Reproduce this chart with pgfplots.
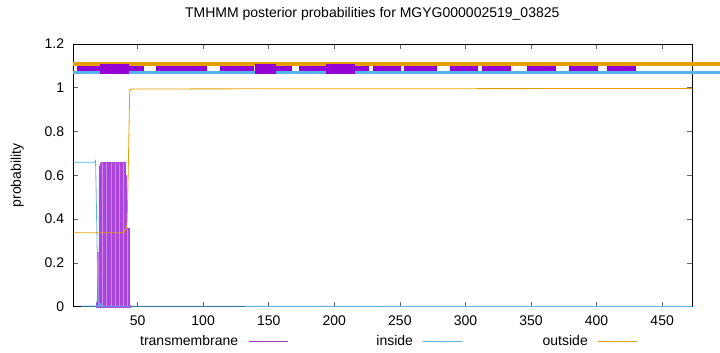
\documentclass[border=0pt]{standalone}
\usepackage{pgfplots}
\pgfplotsset{compat=1.18}
\usepackage{fontspec}
\setmainfont{Liberation Sans}
\definecolor{tmp}{HTML}{9400D3}
\definecolor{inb}{HTML}{56B4E9}
\definecolor{outo}{HTML}{E69F00}
\definecolor{tmfill}{RGB}{205,135,235}
\definecolor{tmline}{RGB}{170,70,220}
\definecolor{legp}{RGB}{160,60,210}
\begin{document}
\begin{tikzpicture}[font=\fontsize{14}{17}\selectfont]
\begin{axis}[
  scale only axis, width=619pt, height=262.7pt,
  xmin=1, xmax=473, ymin=0, ymax=1.2,
  xtick={50,100,150,200,250,300,350,400,450},
  ytick={0,0.2,0.4,0.6,0.8,1,1.2},
  /pgf/number format/assume math mode=true,
  tick align=inside, major tick length=5pt,
  tick style={black!60, line width=0.6pt},
  axis line style={black, line width=0.8pt},
  clip=false,
  unbounded coords=jump,
  title={TMHMM posterior probabilities for MGYG000002519\_03825},
  title style={at={(axis description cs:0.483,1.091)}, anchor=center, inner sep=0pt},
  ylabel={probability},
  ylabel style={at={(axis description cs:-0.0905,0.5)}, anchor=center, inner sep=0pt},
  xticklabel style={inner sep=0pt, anchor=north, yshift=-9pt},
  yticklabel style={inner sep=0pt, anchor=east, xshift=-9pt},
  legend columns=3,
  legend plot pos=right,
  legend cell align=right,
  legend style={draw=none, fill=none, inner sep=0pt,
    at={(axis description cs:0.0722,-0.1306)}, anchor=west,
    nodes={inner sep=0pt, text width=120pt, align=right},
    /tikz/every odd column/.append style={column sep=10pt},
    /tikz/every even column/.append style={column sep=5pt}},
]
% transmembrane posterior (impulses)
\addplot[ybar, bar width=1, fill=tmfill, draw=tmline, line width=0.4pt,
  legend image code/.code={\draw[legp, line width=0.8pt] (0pt,0pt) -- (39pt,0pt);}]
  coordinates {
  (19,0.02) (20,0.25) (21,0.64) (22,0.655) (23,0.66) (24,0.66) (25,0.66)
  (26,0.66) (27,0.66) (28,0.66) (29,0.66) (30,0.66) (31,0.66) (32,0.66)
  (33,0.66) (34,0.66) (35,0.66) (36,0.66) (37,0.66) (38,0.66) (39,0.66)
  (40,0.66) (41,0.60) (42,0.36) (43,0.36) (44,0.005)
  };
\addlegendentry{transmembrane}
% inside
\addplot[inb, line width=0.8pt, smooth, tension=0.3,
  legend image code/.code={\draw[inb, line width=0.8pt] (0pt,0pt) -- (39pt,0pt);}]
  coordinates {
  (1,0.66) (17,0.66) (18,0.655) (19,0.33) (20,0.02) (21,0.015) (22,0.01)
  (23,0.004) (24,0.002) (473,0.001)
  };
\addlegendentry{inside}
% outside
\addplot[outo, line width=0.8pt, smooth, tension=0.3,
  legend image code/.code={\draw[outo, line width=0.8pt] (0pt,0pt) -- (39pt,0pt);}]
  coordinates {
  (1,0.338) (38,0.338) (39,0.34) (40,0.345) (41,0.355) (42,0.38) (43,0.65)
  (44,0.975) (45,0.99) (47,0.994) (100,0.995) (300,0.996) (473,0.997)
  };
\addlegendentry{outside}
% topology lines at the top
\addplot[outo, line width=4pt, forget plot] coordinates {(1,1.109) (494.5,1.109)};
\addplot[inb, line width=3pt, forget plot] coordinates {(1,1.072) (494.5,1.072)};
\addplot[tmp, line width=4.5pt, forget plot] coordinates {
  (4.0,1.088) (54.6,1.088) (nan,nan)
  (64.3,1.088) (102.9,1.088) (nan,nan)
  (112.5,1.088) (138.5,1.088) (nan,nan)
  (139.2,1.088) (167.8,1.088) (nan,nan)
  (173.3,1.088) (226.2,1.088) (nan,nan)
  (229.3,1.088) (250.9,1.088) (nan,nan)
  (253.2,1.088) (278.4,1.088) (nan,nan)
  (288.0,1.088) (309.7,1.088) (nan,nan)
  (312.9,1.088) (334.8,1.088) (nan,nan)
  (347.0,1.088) (369.2,1.088) (nan,nan)
  (379.1,1.088) (401.2,1.088) (nan,nan)
  (408.1,1.088) (430.2,1.088)
  };
\addplot[tmp, line width=10pt, forget plot] coordinates {
  (21.0,1.088) (43.1,1.088) (nan,nan)
  (139.2,1.088) (155.8,1.088) (nan,nan)
  (193.9,1.088) (216.0,1.088)
  };
\coordinate (bbsw) at (rel axis cs:-0.1184,-0.1724);
\coordinate (bbne) at (rel axis cs:1.0447,1.1675);
\end{axis}
\pgfresetboundingbox
\useasboundingbox (bbsw) rectangle (bbne);
\end{tikzpicture}
\end{document}
